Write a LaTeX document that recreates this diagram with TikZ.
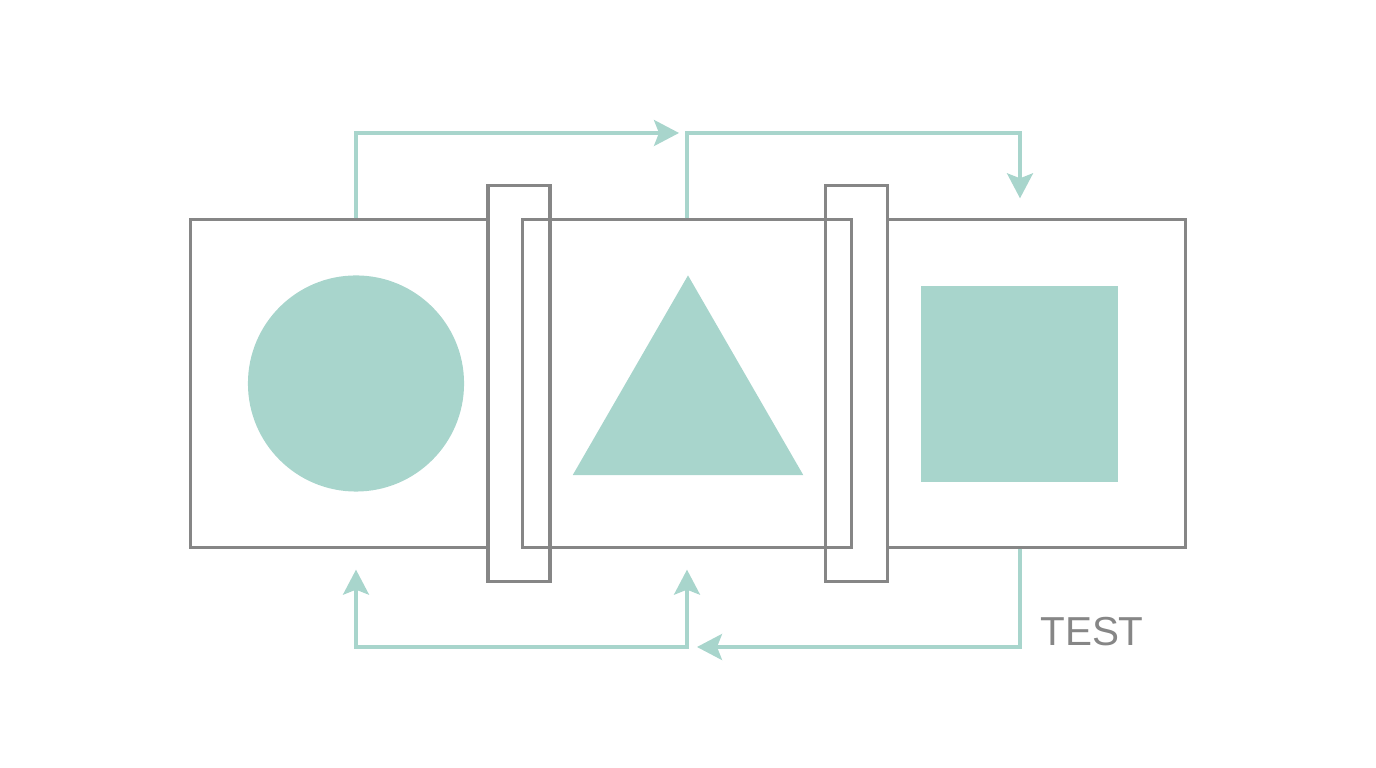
\documentclass[tikz,border=0pt]{standalone}
\usepackage{fontspec}
\setmainfont{Liberation Sans}
\usetikzlibrary{shapes.geometric, arrows.meta, positioning, calc}
\definecolor{flowteal}{HTML}{A8D5CC}
\definecolor{framegray}{HTML}{868686}

\begin{document}
\begin{tikzpicture}[x=0.01cm, y=-0.01cm,
    frame/.style={draw=framegray, line width=0.9pt, minimum width=3.30cm, minimum height=3.27cm, inner sep=0pt},
    clipbox/.style={draw=framegray, fill=white, line width=0.9pt, minimum width=0.62cm, minimum height=3.95cm, inner sep=0pt},
    flow/.style={draw=flowteal, line width=0.9pt, -{Stealth[length=2.5mm, width=2.6mm, inset=0.5mm]}},
    shapefill/.style={fill=flowteal, draw=none, inner sep=0pt}]
  \useasboundingbox (0,0) rectangle (1376,768);

  % Outer frames (middle one goes on top of the clips)
  \node[frame] (circlebox) at (356, 383.5) {};
  \node[frame] (squarebox) at (1020, 383.5) {};
  \node[clipbox] (clipA) at (519, 383.5) {};
  \node[clipbox] (clipB) at (856.5, 383.5) {};
  \node[frame, minimum width=3.28cm] (tribox) at (687, 383.5) {};

  % Shapes inside the frames
  \node[shapefill, circle, minimum size=2.16cm] (disc) at (circlebox.center) {};
  \node[shapefill, regular polygon, regular polygon sides=3, minimum size=2.66cm] (tri) at (688, 408.5) {};
  \node[shapefill, rectangle, minimum width=1.97cm, minimum height=1.96cm] (sq) at (1019.5, 384) {};

  % Connector rails
  \coordinate (toprail) at (0, 133);
  \coordinate (botrail) at (0, 647);

  % Top connectors
  \draw[flow, shorten >=0.08cm] (circlebox.north) |- (tribox.north |- toprail);
  \draw[flow, shorten >=0.2cm] (tribox.north) |- (squarebox.north |- toprail) -- (squarebox.north);

  % Bottom connectors
  \draw[flow, shorten >=0.1cm] (squarebox.south) |- (tribox.south |- botrail);
  \draw[flow, {Stealth[length=2.5mm, width=2.6mm, inset=0.5mm]}-{Stealth[length=2.5mm, width=2.6mm, inset=0.5mm]}, shorten <=0.21cm, shorten >=0.21cm]
    (circlebox.south) |- (tribox.south |- botrail) -- (tribox.south);

  % Label
  \node[text=framegray, font=\fontsize{11.5}{14}\selectfont] (testlabel) at (1092, 632) {TEST};
\end{tikzpicture}
\end{document}
